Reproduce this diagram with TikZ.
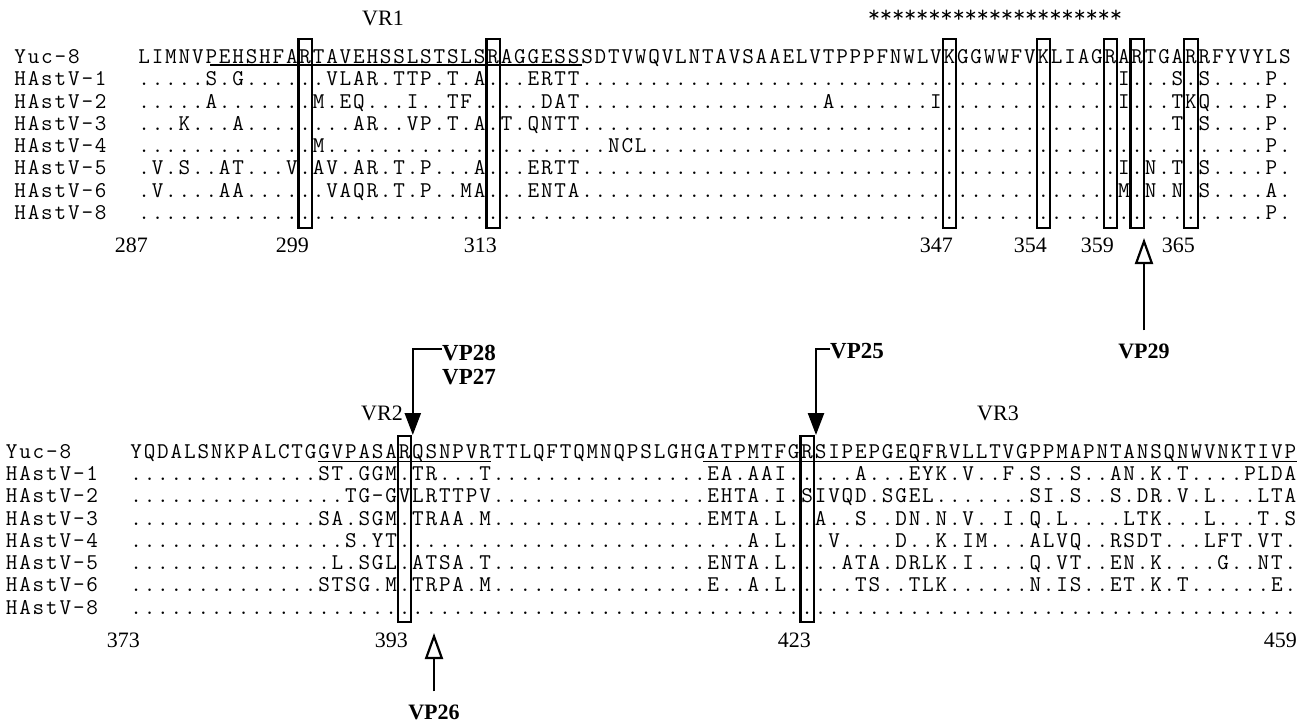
\documentclass[tikz,border=0pt]{standalone}
\usepackage{fontspec}
\newfontfamily\tnr{Liberation Serif}
\usetikzlibrary{arrows.meta}
\newlength\cw
\setlength\cw{13.42pt}
\makeatletter
\def\sq@ten{\makebox[\cw][c]{.}\makebox[\cw][c]{.}\makebox[\cw][c]{.}\makebox[\cw][c]{.}\makebox[\cw][c]{.}\makebox[\cw][c]{.}\makebox[\cw][c]{.}\makebox[\cw][c]{.}\makebox[\cw][c]{.}\makebox[\cw][c]{.}}
\def\sq#1{\sq@loop#1\relax}
\def\sq@loop#1{%
  \ifx\relax#1%
  \else
    \if z#1\sq@ten\else\makebox[\cw][c]{#1}\fi
    \expandafter\sq@loop
  \fi}
\makeatother
\tikzset{
  seqtext/.style={inner sep=0pt, outer sep=0pt, anchor=base west, font=\fontsize{22.5}{22.5}\selectfont\ttfamily},
  stars/.style={inner sep=0pt, outer sep=0pt, font=\fontsize{24}{24}\selectfont\ttfamily},
  num/.style={inner sep=0pt, anchor=base east, font=\fontsize{22}{22}\selectfont\tnr},
  vr/.style={inner sep=0pt, font=\fontsize{22}{22}\selectfont\tnr},
  vp/.style={inner sep=1pt, font=\fontsize{22}{22}\selectfont\tnr\bfseries},
  vpbig/.style={inner sep=0pt, anchor=west, font=\fontsize{23}{23}\selectfont\tnr\bfseries},
  colbox/.style={draw, line width=2.2pt},
  uline/.style={line width=1.3pt},
  farrow/.style={line width=2.4pt, -{Triangle[length=22pt,width=16pt]}},
  oarrow/.style={line width=2.2pt, -{Triangle[open,length=26pt,width=18pt]}}
}
\begin{document}
\begin{tikzpicture}[x=1pt,y=-1pt]
\useasboundingbox (0,0) rectangle (1307,726);
% ---------------- block 1 ----------------
\node[vr] (vr1) at (383,18) {VR1};
\node[stars] (stars) at (995,16) {\setlength\cw{12.1pt}\sq{*********************}};
\foreach \k in {12,26,60,67,72,74,78}
  \draw[colbox] ({137.5+\k*13.42},39) rectangle ({137.5+(\k+1)*13.42},228);
\node[seqtext] (n1a) at (13.5,63.4) {\sq{Yuc-8}};
\node[seqtext] (n1b) at (13.5,85.7) {\sq{HAstV-1}};
\node[seqtext] (n1c) at (13.5,108.0) {\sq{HAstV-2}};
\node[seqtext] (n1d) at (13.5,130.3) {\sq{HAstV-3}};
\node[seqtext] (n1e) at (13.5,152.6) {\sq{HAstV-4}};
\node[seqtext] (n1f) at (13.5,174.9) {\sq{HAstV-5}};
\node[seqtext] (n1g) at (13.5,197.2) {\sq{HAstV-6}};
\node[seqtext] (n1h) at (13.5,219.5) {\sq{HAstV-8}};
\node[seqtext] (s1a) at (137.5,63.4) {\sq{LIMNVPEHSHFARTAVEHSSLSTSLSRAGGESSSDTVWQVLNTAVSAAELVTPPPFNWLVKGGWWFVKLIAGRARTGARRFYVYLS}};
\node[seqtext] (s1b) at (137.5,85.7) {\sq{.....S.G......VLAR.TTP.T.A...ERTTzzzzI...S.S....P.}};
\node[seqtext] (s1c) at (137.5,108.0) {\sq{.....A.......M.EQ...I..TF.....DATz........A.......Iz...I...TKQ....P.}};
\node[seqtext] (s1d) at (137.5,130.3) {\sq{...K...A........AR..VP.T.A.T.QNTTzzzz....T.S....P.}};
\node[seqtext] (s1e) at (137.5,152.6) {\sq{z...Mzz.NCLzzzz......P.}};
\node[seqtext] (s1f) at (137.5,174.9) {\sq{.V.S..AT...V.AV.AR.T.P...A...ERTTzzzzI.N.T.S....P.}};
\node[seqtext] (s1g) at (137.5,197.2) {\sq{.V....AA......VAQR.T.P..MA...ENTAzzzzM.N.N.S....A.}};
\node[seqtext] (s1h) at (137.5,219.5) {\sq{zzzzzzzz....P.}};
\draw[uline] (210,65) -- (582,65);
% numbers block 1
\node[num] (p287) at (148,252) {287};
\node[num] (p299) at (309,252) {299};
\node[num] (p313) at (497,252) {313};
\node[num] (p347) at (953,252) {347};
\node[num] (p354) at (1047,252) {354};
\node[num] (p359) at (1114,252) {359};
\node[num] (p365) at (1195,252) {365};
% VP29
\coordinate (t29) at (1144,238);
\node[vp] (vp29) at (1144,351) {VP29};
\draw[oarrow] ([yshift=12pt]vp29.north) -- (t29);
% ---------------- block 2 ----------------
\node[vpbig] (vp28) at (442,353) {VP28};
\node[vpbig] (vp27) at (442,377) {VP27};
\node[vpbig] (vp25) at (830,351) {VP25};
\coordinate (c393) at (412.8,435);
\coordinate (c423) at (816,435);
\draw[farrow] ([yshift=4pt]vp28.west) -| (c393);
\draw[farrow] ([yshift=2pt]vp25.west) -| (c423);
\node[vr] (vr2) at (382,413) {VR2};
\node[vr] (vr3) at (998,413) {VR3};
\foreach \k in {20,50}
  \draw[colbox] ({129.5+\k*13.42},436) rectangle ({129.5+(\k+1)*13.42},622);
\node[seqtext] (n2a) at (5,458.1) {\sq{Yuc-8}};
\node[seqtext] (n2b) at (5,480.4) {\sq{HAstV-1}};
\node[seqtext] (n2c) at (5,502.7) {\sq{HAstV-2}};
\node[seqtext] (n2d) at (5,525.0) {\sq{HAstV-3}};
\node[seqtext] (n2e) at (5,547.3) {\sq{HAstV-4}};
\node[seqtext] (n2f) at (5,569.6) {\sq{HAstV-5}};
\node[seqtext] (n2g) at (5,591.9) {\sq{HAstV-6}};
\node[seqtext] (n2h) at (5,614.2) {\sq{HAstV-8}};
\node[seqtext] (s2a) at (129.5,458.1) {\sq{YQDALSNKPALCTGGVPASARQSNPVRTTLQFTQMNQPSLGHGATPMTFGRSIPEPGEQFRVLLTVGPPMAPNTANSQNWVNKTIVP}};
\node[seqtext] (s2b) at (129.5,480.4) {\sq{z....ST.GGM.TR...Tz......EA.AAI.....A...EYK.V..F.S..S..AN.K.T....PLDA}};
\node[seqtext] (s2c) at (129.5,502.7) {\sq{z......TG-GVLRTTPVz......EHTA.I.SIVQD.SGEL.......SI.S..S.DR.V.L...LTA}};
\node[seqtext] (s2d) at (129.5,525.0) {\sq{z....SA.SGM.TRAA.Mz......EMTA.L..A..S..DN.N.V..I.Q.L....LTK...L...T.S}};
\node[seqtext] (s2e) at (129.5,547.3) {\sq{z......S.YTzz......A.L...V....D..K.IM...ALVQ..RSDT...LFT.VT.}};
\node[seqtext] (s2f) at (129.5,569.6) {\sq{z.....L.SGL.ATSA.Tz......ENTA.L....ATA.DRLK.I....Q.VT..EN.K....G..NT.}};
\node[seqtext] (s2g) at (129.5,591.9) {\sq{z....STSG.M.TRPA.Mz......E..A.L.....TS..TLK......N.IS..ET.K.T......E.}};
\node[seqtext] (s2h) at (129.5,614.2) {\sq{zzzzzzzz.......}};
\draw[uline] (318,461.5) -- (491,461.5);
\draw[uline] (703,461.5) -- (1297,461.5);
% numbers block 2
\node[num] (p373) at (140,647) {373};
\node[num] (p393) at (408,647) {393};
\node[num] (p423) at (811,647) {423};
\node[num] (p459) at (1297,647) {459};
% VP26
\coordinate (t26) at (434,633);
\node[vp] (vp26) at (434,712) {VP26};
\draw[oarrow] ([yshift=12pt]vp26.north) -- (t26);
\end{tikzpicture}
\end{document}
